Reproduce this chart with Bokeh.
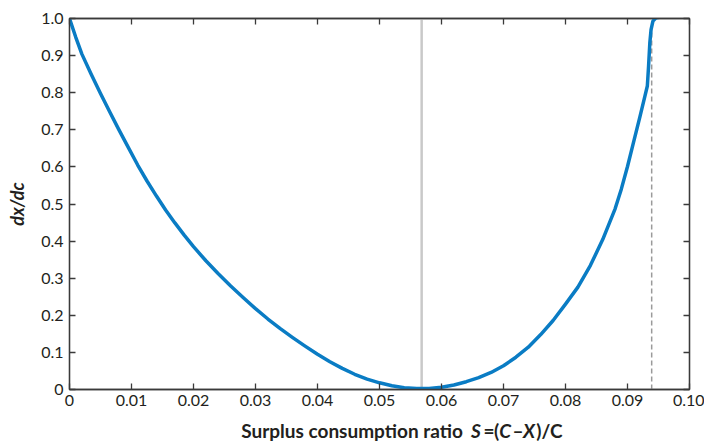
from bokeh.plotting import figure
from bokeh.layouts import column
from bokeh.models import Range1d, LinearAxis, FixedTicker
from bokeh.core.properties import value
from bokeh.embed import file_html
from bokeh.resources import INLINE

# ---- data ----
s_ratio = [0.0, 0.001, 0.002, 0.0035, 0.005, 0.0065, 0.008, 0.0095, 0.011,
           0.0125, 0.014, 0.0155, 0.017, 0.0185, 0.020, 0.022, 0.024, 0.026,
           0.028, 0.030, 0.032, 0.034, 0.036, 0.038, 0.040, 0.042, 0.044,
           0.046, 0.048, 0.050, 0.052, 0.054, 0.056, 0.058, 0.060, 0.062,
           0.064, 0.066, 0.068, 0.070, 0.072, 0.074, 0.076, 0.078, 0.080,
           0.082, 0.084, 0.086, 0.088, 0.089, 0.090, 0.091, 0.092, 0.0928,
           0.0932, 0.0934, 0.0936, 0.0938, 0.0941, 0.0946, 0.0955, 0.100]
dxdc = [1.0, 0.950, 0.904, 0.850, 0.798, 0.748, 0.699, 0.652, 0.605,
        0.562, 0.522, 0.484, 0.449, 0.416, 0.385, 0.347, 0.312, 0.279,
        0.248, 0.218, 0.190, 0.164, 0.140, 0.117, 0.095, 0.075, 0.057,
        0.041, 0.028, 0.018, 0.010, 0.005, 0.003, 0.003, 0.006, 0.012,
        0.021, 0.032, 0.046, 0.064, 0.087, 0.114, 0.148, 0.186, 0.230,
        0.276, 0.334, 0.404, 0.487, 0.540, 0.601, 0.668, 0.735, 0.790,
        0.818, 0.872, 0.934, 0.970, 0.993, 1.002, 1.004, 1.004]
steady_state_s = 0.0568
s_max = 0.0939
s_max_top = 0.97

x_ticks = [0, 0.01, 0.02, 0.03, 0.04, 0.05, 0.06, 0.07, 0.08, 0.09, 0.10]
x_tick_labels = ["0", "0.01", "0.02", "0.03", "0.04", "0.05", "0.06", "0.07", "0.08", "0.09", "0.10"]
y_ticks = [0, 0.1, 0.2, 0.3, 0.4, 0.5, 0.6, 0.7, 0.8, 0.9, 1.0]
y_tick_labels = ["0", "0.1", "0.2", "0.3", "0.4", "0.5", "0.6", "0.7", "0.8", "0.9", "1.0"]

# x title pieces (text, style, left edge in px)
title_parts = ["Surplus consumption ratio", "S", "=", "(", "C", "\u2013", "X", ")/C"]
title_styles = ["bold", "bold italic", "bold", "bold", "bold italic", "bold", "bold italic", "bold"]
title_starts = [195, 456, 470, 482, 488, 503, 515, 530]

FONT = "Lato"
AX = "#3a3a3a"
TXT = "#231f20"

p = figure(width=704, height=414, output_backend="svg", toolbar_location=None,
           x_range=Range1d(0, 0.10), y_range=Range1d(0, 1.0),
           min_border_left=69, min_border_right=15, min_border_top=18, min_border_bottom=25)
p.background_fill_color = "white"
p.border_fill_color = "white"
p.outline_line_color = AX
p.outline_line_width = 1.3
p.grid.visible = False


def style_axis(ax):
    ax.axis_line_color = AX
    ax.axis_line_width = 1.3
    ax.major_tick_line_color = AX
    ax.major_tick_line_width = 1.3
    ax.major_tick_in = 6
    ax.major_tick_out = 0
    ax.minor_tick_line_color = None
    ax.major_label_text_font = FONT
    ax.major_label_text_font_size = "16px"
    ax.major_label_text_color = TXT


p.xaxis.ticker = FixedTicker(ticks=x_ticks)
p.xaxis.major_label_overrides = {t: l for t, l in zip(x_ticks, x_tick_labels)}
p.xaxis.major_label_standoff = 5
style_axis(p.xaxis[0])
p.yaxis.ticker = FixedTicker(ticks=y_ticks)
p.yaxis.major_label_overrides = {t: l for t, l in zip(y_ticks, y_tick_labels)}
p.yaxis.major_label_standoff = 6
style_axis(p.yaxis[0])
p.yaxis.axis_label = "dx/dc"
p.yaxis.axis_label_text_font = FONT
p.yaxis.axis_label_text_font_style = "bold italic"
p.yaxis.axis_label_text_font_size = "18px"
p.yaxis.axis_label_text_color = TXT
p.yaxis.axis_label_standoff = 10

top = LinearAxis(ticker=FixedTicker(ticks=x_ticks))
style_axis(top)
top.major_label_overrides = {t: "" for t in x_ticks}
top.major_label_standoff = 0
p.add_layout(top, "above")
right = LinearAxis(ticker=FixedTicker(ticks=y_ticks))
style_axis(right)
right.major_label_overrides = {t: "" for t in y_ticks}
right.major_label_standoff = 0
p.add_layout(right, "right")

# reference lines
p.segment(x0=[steady_state_s], y0=[0], x1=[steady_state_s], y1=[1.0],
          line_color="#c9c9c9", line_width=2.5)
p.segment(x0=[s_max], y0=[0], x1=[s_max], y1=[s_max_top],
          line_color="#9a9a9a", line_width=1.5, line_dash="5 3")

p.line(s_ratio, dxdc, line_color="#0a7cc4", line_width=3.5, line_join="round", line_cap="round")

# strip below the chart that carries the x axis title (mixed upright / italic)
t = figure(width=704, height=28, output_backend="svg", toolbar_location=None,
           x_range=Range1d(0, 704), y_range=Range1d(0, 28),
           x_axis_type=None, y_axis_type=None, min_border=0)
t.outline_line_color = None
t.grid.visible = False
t.background_fill_color = "white"
t.border_fill_color = "white"
for txt, style, x0 in zip(title_parts, title_styles, title_starts):
    t.text(x=[x0], y=[12], text=[txt], text_font=value(FONT), text_font_style=style,
           text_font_size="19px", text_color=TXT, text_align="left",
           text_baseline="alphabetic")

layout = column(p, t, spacing=0)
open("out.html", "w").write(file_html(layout, INLINE))
